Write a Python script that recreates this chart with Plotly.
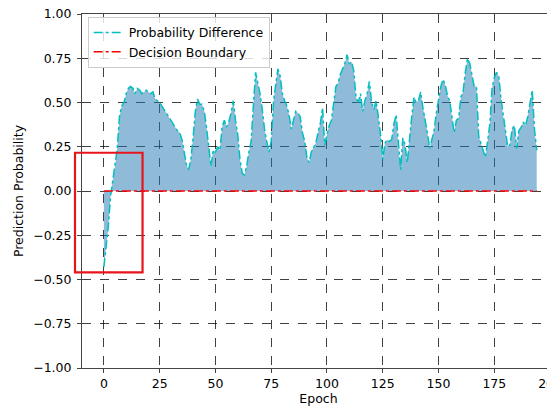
import plotly.graph_objects as go

epochs = list(range(0, 195))
prob_diff = [
    -0.43, -0.32, -0.20, -0.03, 0.06, 0.14, 0.24, 0.42, 0.48, 0.50,
    0.55, 0.58, 0.59, 0.58, 0.55, 0.58, 0.57, 0.55, 0.56, 0.57,
    0.56, 0.55, 0.56, 0.52, 0.51, 0.50, 0.48, 0.46, 0.44, 0.42,
    0.40, 0.38, 0.36, 0.34, 0.33, 0.29, 0.22, 0.15, 0.12, 0.18,
    0.30, 0.45, 0.52, 0.49, 0.49, 0.45, 0.36, 0.25, 0.14, 0.23,
    0.22, 0.25, 0.23, 0.36, 0.40, 0.36, 0.39, 0.44, 0.51, 0.40,
    0.32, 0.18, 0.10, 0.09, 0.14, 0.22, 0.28, 0.48, 0.67, 0.61,
    0.55, 0.46, 0.35, 0.28, 0.22, 0.28, 0.50, 0.60, 0.69, 0.65,
    0.55, 0.51, 0.48, 0.43, 0.35, 0.40, 0.45, 0.44, 0.42, 0.33,
    0.28, 0.19, 0.16, 0.22, 0.25, 0.27, 0.33, 0.38, 0.47, 0.26,
    0.32, 0.37, 0.40, 0.50, 0.59, 0.61, 0.66, 0.69, 0.72, 0.77,
    0.72, 0.73, 0.68, 0.53, 0.50, 0.55, 0.45, 0.51, 0.55, 0.62,
    0.50, 0.46, 0.51, 0.42, 0.32, 0.18, 0.27, 0.29, 0.28, 0.29,
    0.38, 0.43, 0.25, 0.12, 0.30, 0.26, 0.16, 0.31, 0.42, 0.53,
    0.50, 0.51, 0.56, 0.47, 0.41, 0.33, 0.24, 0.30, 0.34, 0.44,
    0.51, 0.59, 0.63, 0.60, 0.54, 0.51, 0.42, 0.33, 0.40, 0.41,
    0.53, 0.56, 0.67, 0.75, 0.72, 0.66, 0.59, 0.59, 0.31, 0.27,
    0.23, 0.19, 0.28, 0.38, 0.58, 0.64, 0.67, 0.65, 0.52, 0.42,
    0.35, 0.25, 0.26, 0.35, 0.37, 0.24, 0.34, 0.36, 0.39, 0.37,
    0.42, 0.50, 0.57, 0.35, 0.23,
]
boundary = [0.0 for _ in epochs]

x_ticks = [0, 25, 50, 75, 100, 125, 150, 175, 200]
y_ticks = [1.0, 0.75, 0.5, 0.25, 0.0, -0.25, -0.5, -0.75, -1.0]
y_tick_labels = ["1.00", "0.75", "0.50", "0.25", "0.00",
                 "\u22120.25", "\u22120.50", "\u22120.75", "\u22121.00"]

FONT = "DejaVu Sans"
fs = 12.5

fig = go.Figure()
fig.add_trace(go.Scatter(
    x=epochs, y=prob_diff, mode="none", fill="tozeroy",
    fillcolor="rgba(31,119,180,0.5)", showlegend=False, hoverinfo="skip"))
fig.add_trace(go.Scatter(
    x=epochs, y=prob_diff, mode="lines", name="Probability Difference",
    line=dict(color="#00bfbf", width=1.5, dash="dashdot")))
fig.add_trace(go.Scatter(
    x=epochs, y=boundary, mode="lines", name="Decision Boundary",
    line=dict(color="#ff0000", width=1.5, dash="dashdot")))

# page body has an 8px margin, so the figure is sized/offset to compensate
fig.update_layout(
    width=547, height=399,
    margin=dict(l=74, r=0, t=6, b=39),
    paper_bgcolor="white", plot_bgcolor="white",
    font=dict(family=FONT, size=fs, color="black"),
    legend=dict(x=0.012, y=0.992, xanchor="left", yanchor="top",
                bgcolor="rgba(255,255,255,0.8)", bordercolor="#cccccc",
                borderwidth=1, font=dict(family=FONT, size=fs),
                tracegroupgap=0, itemwidth=30),
    xaxis=dict(range=[-9.8, 202.2], tickvals=x_ticks, automargin=False,
               ticklabeloverflow="allow",
               showline=True, linecolor="#444", linewidth=1, mirror=True,
               ticks="outside", ticklen=4, tickcolor="#444", tickwidth=1,
               showgrid=True, gridcolor="rgba(0,0,0,0.75)", gridwidth=1,
               griddash="dash", zeroline=False,
               title=dict(text="Epoch", standoff=2,
                          font=dict(family=FONT, size=fs))),
    yaxis=dict(range=[-1, 1], tickvals=y_ticks, ticktext=y_tick_labels,
               automargin=False, ticklabelstandoff=3,
               ticklabeloverflow="allow",
               showline=True, linecolor="#444", linewidth=1, mirror=False,
               ticks="outside", ticklen=4, tickcolor="#444", tickwidth=1,
               showgrid=True, gridcolor="rgba(0,0,0,0.75)", gridwidth=1,
               griddash="dash", zeroline=False,
               title=dict(text="Prediction Probability", standoff=6,
                          font=dict(family=FONT, size=fs))),
    shapes=[dict(type="rect", xref="paper", yref="paper",
                 x0=-0.0148, x1=0.128, y0=0.270, y1=0.608,
                 line=dict(color="#e8141c", width=2.2),
                 fillcolor="rgba(0,0,0,0)", layer="above")],
)

fig.write_html("out.html")
